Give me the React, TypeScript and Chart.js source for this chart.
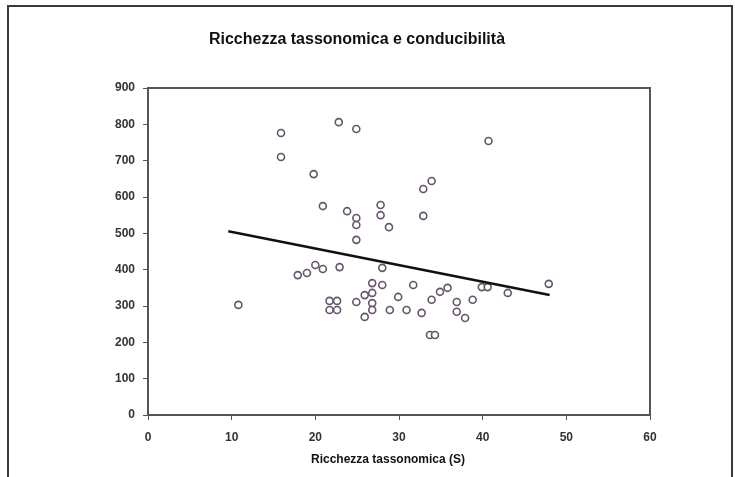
import React, { useEffect, useRef } from "react";
import { Chart, registerables } from "chart.js";

Chart.register(...registerables);

const titleText = "Ricchezza tassonomica e conducibilità";
const xAxisTitle = "Ricchezza tassonomica (S)";

const xTicks = [0, 10, 20, 30, 40, 50, 60];
const yTicks = [0, 100, 200, 300, 400, 500, 600, 700, 800, 900];

// Richness (S)
const richness = [
  10.8, 15.9, 15.9, 22.8, 24.9, 19.8, 20.9, 23.8, 24.9, 24.9,
  24.9, 27.8, 27.8, 28.8, 32.9, 33.9, 32.9, 40.7, 47.9, 17.9,
  19.0, 20.0, 20.9, 22.9, 21.7, 22.6, 21.7, 22.6, 24.9, 25.9,
  26.8, 26.8, 26.8, 26.8, 25.9, 28.0, 28.0, 31.7, 29.9, 28.9,
  30.9, 32.7, 33.9, 34.9, 35.8, 36.9, 36.9, 37.9, 33.7, 34.3,
  39.9, 40.6, 43.0, 38.8,
];
// Conductivity
const conductivity = [
  303, 776, 710, 806, 787, 663, 575, 561, 542, 523,
  482, 578, 550, 517, 622, 644, 548, 754, 361, 385,
  391, 413, 402, 407, 314, 314, 289, 289, 311, 330,
  363, 336, 308, 289, 270, 405, 358, 358, 325, 289,
  289, 281, 317, 339, 350, 311, 284, 267, 220, 220,
  352, 352, 336, 317,
];

// Trend line end points
const trendX = [9.6, 48.0];
const trendY = [506, 330];

export default function App() {
  const ref = useRef<HTMLCanvasElement | null>(null);

  useEffect(() => {
    if (!ref.current) return;
    const font = "'Liberation Sans', Arial, sans-serif";

    const framePlugin = {
      id: "frame",
      beforeDraw(chart: any) {
        const ctx = chart.ctx;
        ctx.save();
        ctx.fillStyle = "#ffffff";
        ctx.fillRect(0, 0, chart.width, chart.height);
        ctx.strokeStyle = "#3a3a3a";
        ctx.lineWidth = 2;
        ctx.strokeRect(8, 6, 724, 490);
        ctx.restore();
      },
      afterDraw(chart: any) {
        const ctx = chart.ctx;
        const a = chart.chartArea;
        ctx.save();
        ctx.strokeStyle = "#555555";
        ctx.lineWidth = 2;
        ctx.strokeRect(a.left, a.top, a.right - a.left, a.bottom - a.top);
        ctx.fillStyle = "#111111";
        ctx.textAlign = "center";
        ctx.textBaseline = "middle";
        ctx.font = `bold 16px ${font}`;
        ctx.fillText(titleText, 357, 40);
        ctx.font = `bold 12px ${font}`;
        ctx.fillText(xAxisTitle, 388, 460);
        ctx.restore();
      },
    };

    const chart = new Chart(ref.current, {
      type: "scatter",
      data: {
        datasets: [
          {
            type: "line",
            data: trendX.map((x, i) => ({ x, y: trendY[i] })),
            borderColor: "#111111",
            borderWidth: 2.5,
            pointRadius: 0,
            fill: false,
          } as any,
          {
            data: richness.map((x, i) => ({ x, y: conductivity[i] })),
            pointRadius: 3.5,
            pointBorderWidth: 1.6,
            borderColor: "#65546a",
            backgroundColor: "rgba(255,255,255,0.9)",
          },
        ],
      },
      plugins: [framePlugin],
      options: {
        responsive: false,
        animation: false,
        layout: { padding: { left: 0, right: 85, top: 88, bottom: 0 } },
        plugins: {
          legend: { display: false },
          title: { display: false },
          tooltip: { enabled: false },
        },
        scales: {
          x: {
            type: "linear",
            min: 0,
            max: 60,
            afterBuildTicks: (s: any) => {
              s.ticks = xTicks.map((v) => ({ value: v }));
            },
            afterFit: (s: any) => {
              s.height = 62;
            },
            grid: {
              drawOnChartArea: false,
              tickLength: 5,
              color: "#555555",
            },
            border: { display: false },
            ticks: {
              padding: 10,
              color: "#333333",
              font: { family: font, size: 12, weight: "bold" },
              maxRotation: 0,
            },
          },
          y: {
            type: "linear",
            min: 0,
            max: 900,
            afterBuildTicks: (s: any) => {
              s.ticks = yTicks.map((v) => ({ value: v }));
            },
            afterFit: (s: any) => {
              s.width = 148;
            },
            grid: {
              drawOnChartArea: false,
              tickLength: 5,
              color: "#555555",
            },
            border: { display: false },
            ticks: {
              padding: 8,
              color: "#333333",
              font: { family: font, size: 12, weight: "bold" },
            },
          },
        },
      },
    } as any);
    return () => chart.destroy();
  }, []);

  return (
    <div style={{ position: "absolute", left: 0, top: 0, width: 735, height: 477 }}>
      <canvas ref={ref} width={735} height={477} style={{ width: 735, height: 477 }} />
    </div>
  );
}
